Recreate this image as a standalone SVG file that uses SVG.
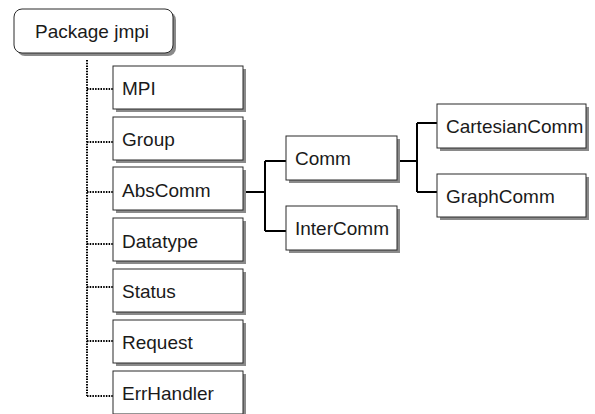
<svg xmlns="http://www.w3.org/2000/svg" width="595" height="414" viewBox="0 0 595 414">
<style>
.sh{fill:#8a8a8a;stroke:none}
.bx{fill:#fff;stroke:#2a2a2a;stroke-width:1}
.t{font-family:"Liberation Sans",Arial,sans-serif;font-size:19px;fill:#1a1a1a}
.dot{fill:none;stroke:#000;stroke-width:2;stroke-dasharray:1.5 1.2}
.ln{fill:none;stroke:#000;stroke-width:2}
</style>
<rect width="595" height="414" fill="#fff"/>
<g id="connectors">
<path class="dot" d="M87 60V396M87 89H113M87 142H113M87 192H113M87 244H113M87 287H113M87 341H113M87 396H113"/>
<path class="ln" d="M243 192H265M265 161V231M265 161H286M265 231H286"/>
<path class="ln" d="M397 161H417M417 123V192M417 123H437M417 192H437"/>
</g>
<g id="package">
<rect class="sh" x="17" y="12" width="159" height="44" rx="8"/>
<rect class="bx" x="14" y="9" width="159" height="44" rx="8"/>
<text class="t" x="35" y="38">Package jmpi</text>
</g>
<g id="mpi">
<rect class="sh" x="116" y="69" width="130" height="43"/>
<rect class="bx" x="113" y="66" width="130" height="43"/>
<text class="t" x="122" y="95">MPI</text>
</g>
<g id="group">
<rect class="sh" x="116" y="120" width="130" height="43"/>
<rect class="bx" x="113" y="117" width="130" height="43"/>
<text class="t" x="122" y="146">Group</text>
</g>
<g id="abscomm">
<rect class="sh" x="116" y="170" width="130" height="43"/>
<rect class="bx" x="113" y="167" width="130" height="43"/>
<text class="t" x="122" y="197">AbsComm</text>
</g>
<g id="datatype">
<rect class="sh" x="116" y="221" width="130" height="43"/>
<rect class="bx" x="113" y="218" width="130" height="43"/>
<text class="t" x="122" y="248">Datatype</text>
</g>
<g id="status">
<rect class="sh" x="116" y="272" width="130" height="43"/>
<rect class="bx" x="113" y="269" width="130" height="43"/>
<text class="t" x="122" y="298">Status</text>
</g>
<g id="request">
<rect class="sh" x="116" y="323" width="130" height="43"/>
<rect class="bx" x="113" y="320" width="130" height="43"/>
<text class="t" x="122" y="349">Request</text>
</g>
<g id="errhandler">
<rect class="sh" x="116" y="374" width="130" height="43"/>
<rect class="bx" x="113" y="371" width="130" height="43"/>
<text class="t" x="122" y="400">ErrHandler</text>
</g>
<g id="comm">
<rect class="sh" x="289" y="139" width="111" height="44"/>
<rect class="bx" x="286" y="136" width="111" height="44"/>
<text class="t" x="295" y="165">Comm</text>
</g>
<g id="intercomm">
<rect class="sh" x="289" y="209" width="111" height="44"/>
<rect class="bx" x="286" y="206" width="111" height="44"/>
<text class="t" x="295" y="235">InterComm</text>
</g>
<g id="cartesiancomm">
<rect class="sh" x="440" y="107" width="149" height="44"/>
<rect class="bx" x="437" y="104" width="149" height="44"/>
<text class="t" x="446" y="133">CartesianComm</text>
</g>
<g id="graphcomm">
<rect class="sh" x="440" y="177" width="149" height="43"/>
<rect class="bx" x="437" y="174" width="149" height="43"/>
<text class="t" x="446" y="203">GraphComm</text>
</g>
</svg>
